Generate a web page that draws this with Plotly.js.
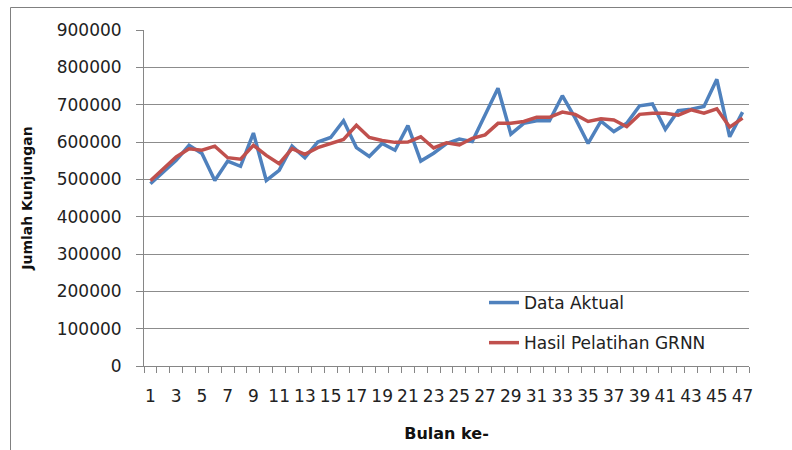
<!DOCTYPE html>
<html>
<head>
<meta charset="utf-8">
<script src="https://cdn.plot.ly/plotly-3.0.1.min.js"></script>
<style>html,body{margin:0;padding:0;background:#fff;}#chart{width:792px;height:450px;}</style>
</head>
<body>
<div id="chart"></div>
<script>
const months = Array.from({length: 47}, (_, i) => i + 1);
const dataAktual = [488000, 520000, 551000, 591000, 569000, 497000, 549000, 535000, 624000, 497000,
  524000, 589000, 558000, 600000, 612000, 657000, 585000, 561000, 596000, 578000,
  644000, 549000, 570000, 596000, 608000, 601000, 672000, 744000, 621000, 650000,
  657000, 657000, 724000, 664000, 596000, 656000, 628000, 650000, 697000, 702000,
  634000, 684000, 688000, 695000, 768000, 614000, 680000];
const hasilGRNN = [496000, 529000, 560000, 582000, 578000, 589000, 558000, 554000, 591000, 564000,
  542000, 582000, 567000, 585000, 596000, 607000, 645000, 612000, 604000, 599000,
  600000, 614000, 584000, 598000, 592000, 610000, 619000, 650000, 650000, 655000,
  666000, 666000, 680000, 674000, 655000, 662000, 659000, 641000, 674000, 677000,
  677000, 672000, 686000, 677000, 689000, 640000, 664000];
const xTickVals = months.filter(m => m % 2 === 1);
const xTickText = xTickVals.map(String);

const font = "DejaVu Sans";
const traces = [
  {x: months, y: dataAktual, type: 'scatter', mode: 'lines', name: 'Data Aktual',
   line: {color: '#4F81BD', width: 3.5}, legendgroup: 'a'},
  {x: months, y: hasilGRNN, type: 'scatter', mode: 'lines', name: 'Hasil Pelatihan GRNN',
   line: {color: '#C0504D', width: 3.5}, legendgroup: 'b'}
];
const L = 144, R = 749, T = 30, B = 366;
const pw = R - L, ph = B - T;
const px = v => (v - L) / pw;
const py = v => (B - v) / ph;
const layout = {
  width: 792, height: 450,
  margin: {l: L, r: 792 - R, t: T, b: 450 - B},
  paper_bgcolor: '#fff', plot_bgcolor: '#fff',
  font: {family: font, color: '#222', size: 16},
  showlegend: true,
  legend: {x: px(484), y: py(285), xanchor: 'left', yanchor: 'top',
    font: {family: font, size: 17, color: '#222'}, bgcolor: 'rgba(0,0,0,0)',
    traceorder: 'grouped', tracegroupgap: 15},
  xaxis: {
    range: [0.5, 47.5], tickmode: 'array', tickvals: xTickVals, ticktext: xTickText,
    ticks: '', showgrid: false, zeroline: false,
    showline: true, linecolor: '#868686', linewidth: 1,
    tickfont: {family: font, size: 17, color: '#222'},
    ticklabelstandoff: 15,
    minor: {tickmode: 'linear', tick0: 0.5, dtick: 1, ticks: 'outside', ticklen: 6,
            tickcolor: '#868686', tickwidth: 1, showgrid: false},
    title: {text: 'Bulan ke-', font: {family: font, size: 16, color: '#111', weight: 'bold'}, standoff: 22}
  },
  yaxis: {
    range: [0, 900000], dtick: 100000, tick0: 0, tickformat: 'd',
    ticks: 'outside', ticklen: 7, tickcolor: '#868686',
    showgrid: true, gridcolor: '#8c8c8c', gridwidth: 1, zeroline: false,
    showline: true, linecolor: '#868686', linewidth: 1,
    tickfont: {family: font, size: 17, color: '#222'},
    ticklabelstandoff: 11,
    title: {text: 'Jumlah Kunjungan', font: {family: font, size: 14, color: '#111', weight: 'bold'}, standoff: 20}
  },
  shapes: [
    {type: 'line', xref: 'paper', yref: 'paper', x0: px(10.5), x1: px(10.5), y0: py(7.5), y1: py(452),
     line: {color: '#808080', width: 1}},
    {type: 'line', xref: 'paper', yref: 'paper', x0: px(10.5), x1: px(795), y0: py(7.5), y1: py(7.5),
     line: {color: '#808080', width: 1}}
  ]
};
Plotly.newPlot('chart', traces, layout, {displayModeBar: false, staticPlot: true});
</script>
</body>
</html>
